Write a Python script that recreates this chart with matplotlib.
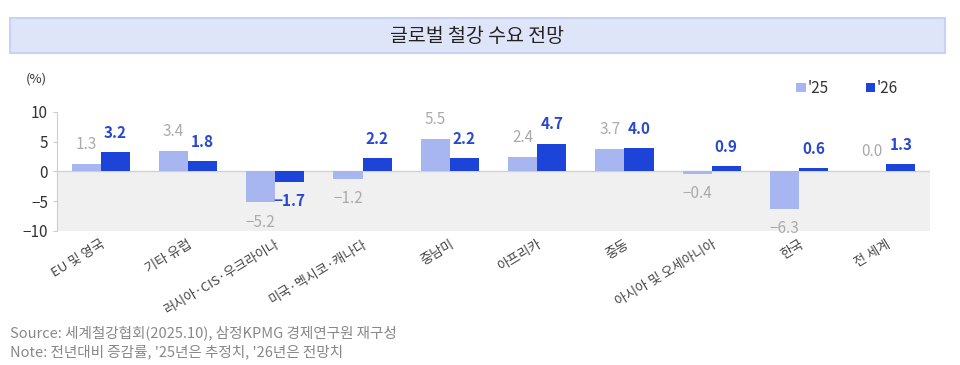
# 글로벌 철강 수요 전망 - grouped bar chart
import matplotlib.pyplot as plt
import numpy as np
from matplotlib.patches import Rectangle

plt.rcParams['font.family'] = ['Noto Sans CJK KR', 'DejaVu Sans']
plt.rcParams['axes.unicode_minus'] = True

# data
categories = ["EU 및 영국", "기타 유럽", "러시아·CIS·우크라이나", "미국·멕시코·캐나다", "중남미",
              "아프리카", "중동", "아시아 및 오세아니아", "한국", "전 세계"]
y25 = [1.3, 3.4, -5.2, -1.2, 5.5, 2.4, 3.7, -0.4, -6.3, 0.0]
y26 = [3.2, 1.8, -1.7, 2.2, 2.2, 4.7, 4.0, 0.9, 0.6, 1.3]
series_names = ["'25", "'26"]

c25 = "#a7b5f1"
c26 = "#1d44d8"
lab25 = "#aaaaaa"
lab26 = "#2848cf"

fig = plt.figure(figsize=(9.6, 3.65), dpi=100)

# title box
fig.patches.append(Rectangle((10 / 960, 1 - 53 / 365), 935 / 960, 35 / 365,
                             transform=fig.transFigure, facecolor="#dfe5f8",
                             edgecolor="#c8d2f2", linewidth=1.5))
fig.text(477 / 960, 1 - 36 / 365, "글로벌 철강 수요 전망", ha="center", va="center",
         fontsize=14, color="#222222")

ax = fig.add_axes([57 / 960, 1 - 231 / 365, 873 / 960, 119 / 365])
x = np.arange(len(categories))
w = 1 / 3
ax.set_xlim(-0.5, len(categories) - 0.5)
ax.set_ylim(-10, 10)

# gray area below zero
ax.axhspan(-10, 0, color="#f0f0f0", zorder=0, lw=0)
ax.axhline(0, color="#d2d2d2", lw=1, zorder=1)

b1 = ax.bar(x - w / 2, y25, w, color=c25, zorder=2, label=series_names[0])
b2 = ax.bar(x + w / 2, y26, w, color=c26, zorder=2, label=series_names[1])

for xi, v in zip(x, y25):
    off = 8 if v >= 0 else -8
    ax.annotate(f"{v:.1f}".replace("-", "\u2212"), (xi - w / 2, v), xytext=(0, off),
                textcoords="offset points", ha="center",
                va="bottom" if v >= 0 else "top", fontsize=11, color=lab25)
for xi, v in zip(x, y26):
    off = 8 if v >= 0 else -8
    ax.annotate(f"{v:.1f}".replace("-", "\u2212"), (xi + w / 2, v), xytext=(0, off),
                textcoords="offset points", ha="center",
                va="bottom" if v >= 0 else "top", fontsize=11, color=lab26,
                fontweight="bold")

for s in ["top", "right", "bottom"]:
    ax.spines[s].set_visible(False)
ax.spines["left"].set_color("#cccccc")
ax.set_yticks([10, 5, 0, -5, -10])
ax.set_yticklabels(["10", "5", "0", "\u22125", "\u221210"])
ax.tick_params(axis="y", colors="#cccccc", labelcolor="#333333", labelsize=11, length=3)
ax.set_xticks(x)
ax.set_xticklabels(categories, rotation=31, ha="right", rotation_mode="anchor",
                   fontsize=9.5, color="#444444")
ax.tick_params(axis="x", length=0, pad=5)

fig.text(26 / 960, 1 - 79 / 365, "(%)", ha="left", va="center", fontsize=9.5, color="#333333")

ax.legend(loc="upper right", bbox_to_anchor=(912 / 960, 1 - 66 / 365),
          bbox_transform=fig.transFigure, ncol=2, frameon=False, fontsize=11,
          handlelength=0.6, handleheight=0.6, columnspacing=2.4, handletextpad=0.15,
          labelcolor="#333333")

fig.text(10 / 960, 1 - 333 / 365, "Source: 세계철강협회(2025.10), 삼정KPMG 경제연구원 재구성",
         ha="left", va="center", fontsize=10.5, color="#888888")
fig.text(10 / 960, 1 - 352 / 365, "Note: 전년대비 증감률, '25년은 추정치, '26년은 전망치",
         ha="left", va="center", fontsize=10.5, color="#888888")

fig.savefig("out.png", dpi=100)
